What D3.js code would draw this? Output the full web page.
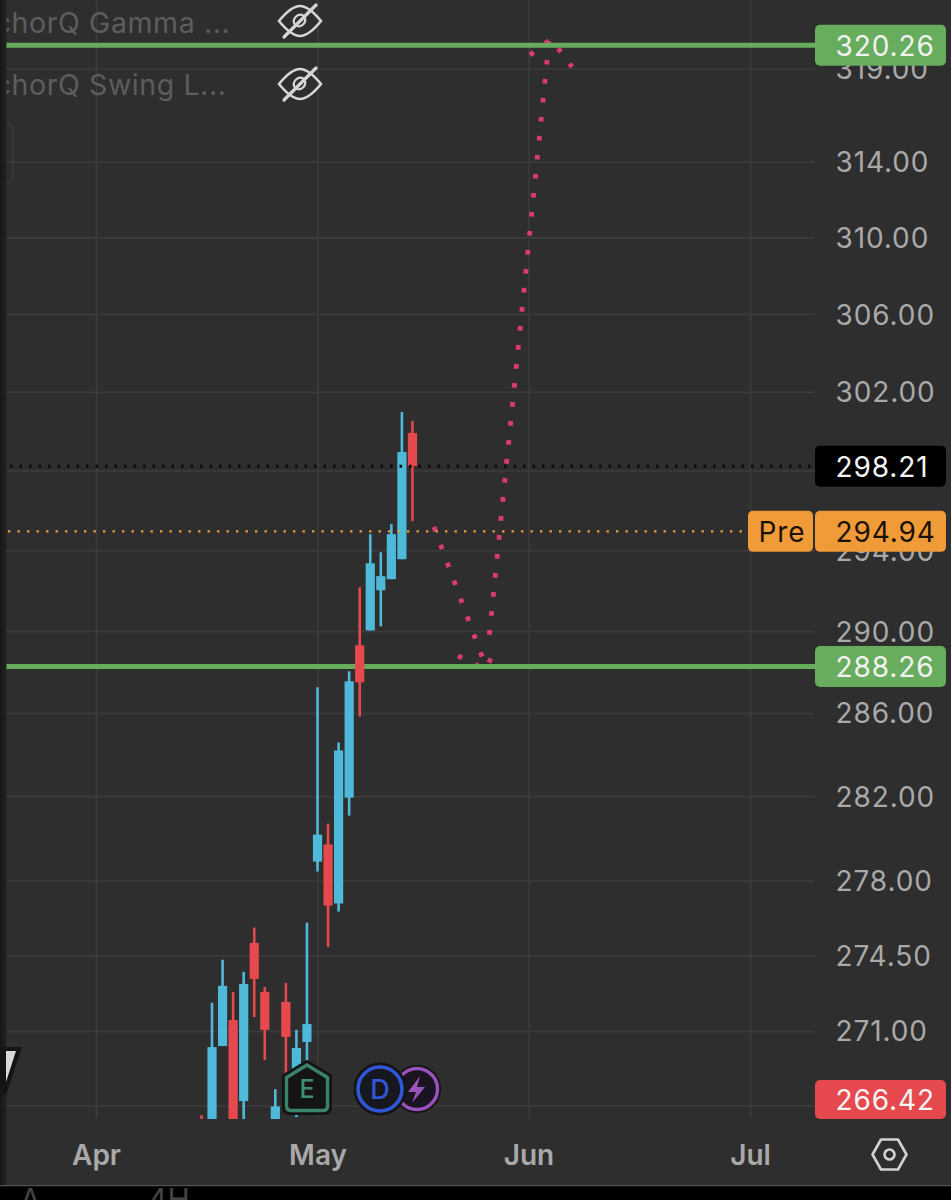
<!DOCTYPE html>
<html><head><meta charset="utf-8">
<script src="https://cdn.jsdelivr.net/npm/d3@7"></script>
<style>html,body{margin:0;padding:0;background:#000;overflow:hidden}svg{display:block}text{font-family:Inter,"Noto Sans",sans-serif}</style>
</head><body><svg id="c" width="951" height="1200"></svg>
<script>
// sessions counted from 1 April
const sessions=[10,11,12,13,14,15,16,17,18,19,20,21,22,23,24,25,26,27,28,29,30];
const opens =[266.5,266.4,270.31,271.5,267.8,275.08,272.8,266.6,272.34,268.75,270.5,278.89,279.7,276.92,281.93,289.3,290.03,292.01,292.56,293.55,299.9];
const closes=[266.2,270.26,273.08,266.4,273.17,273.4,271.05,267.56,270.73,270.22,271.32,280.17,276.82,284.19,287.54,287.49,293.35,292.71,294.8,298.93,298.22];
const highs =[267.16,272.3,274.29,272.8,273.73,275.79,273.03,268.34,273.22,271.05,276.02,287.25,280.69,284.58,288.03,292.16,294.8,293.9,295.3,300.97,300.51];
const lows  =[265.8,266,270.31,266,266.5,271.64,269.67,266,268.98,267.07,268.75,278.42,274.89,276.54,281.07,285.83,290.03,290.23,292.56,293.55,295.45];
const priceTicks=[319,314,310,306,302,294,290,286,282,278,274.5,271];
const gridOnly=[298,267.6];
const monthLabels=["Apr","May","Jun","Jul"];
const monthSessions=[0,21,41,62];
const levels=[320.26,288.26];
const lastPrice=298.21, prePrice=294.94, lowFlagPrice=266.42;
const arrow1Main=[[32.04,295.16],[37.07,288.09]];
const arrow1Wing=[[34.32,288.78],[36.93,288.12],[38.02,289.27]];
const arrow2Main=[[42.95,320.49],[37.16,289.16]];
const arrow2Wing=[[41.14,319.73],[43.14,320.6],[45.13,319.08]];
const legendNames=["AnchorQ Gamma ...","AnchorQ Swing L..."];

const W=951,H=1200,plotR=815,plotB=1119;
const svg=d3.select("#c");
const x=d3.scaleLinear().domain([0,62]).range([96,750]);
const y=d3.scaleLog().domain([271,319]).range([1031,68.5]);
const BG="#2e2e2e",GRID="#3c3c3c",AX="#a9a9a9",GREEN="#67ad5d",BLUE="#4fb9d9",RED="#e5494e",ORANGE="#f09b38",PINK="#dd3a72";
svg.append("rect").attr("width",W).attr("height",H).attr("fill",BG);
svg.append("defs").append("clipPath").attr("id","plot").append("rect").attr("x",0).attr("y",0).attr("width",plotR).attr("height",plotB);

// grid
const gy=svg.append("g").attr("transform",`translate(${plotR},0)`)
 .call(d3.axisLeft(y).tickValues(priceTicks.concat(gridOnly)).tickSize(plotR-6).tickFormat(""));
gy.select(".domain").remove();gy.selectAll("line").attr("stroke",GRID).attr("stroke-width",1.6);
const gx=svg.append("g").attr("transform",`translate(0,${plotB})`)
 .call(d3.axisTop(x).tickValues(monthSessions).tickSize(plotB).tickFormat(""));
gx.select(".domain").remove();gx.selectAll("line").attr("stroke",GRID).attr("stroke-width",1.6);

// legend
const legendY=[33,95];
svg.selectAll("text.leg").data(legendNames).join("text").attr("class","leg")
 .attr("x",-43).attr("y",(d,i)=>legendY[i]).attr("font-size",28.5).attr("fill","#5d5d5d").attr("letter-spacing",0.6).text(d=>d);
svg.append("path").attr("d","M0.5 124H6Q13 124 13 131V176Q13 183 6 183H0.5").attr("fill","none").attr("stroke","#3b3b3b").attr("stroke-width",1.5);
[21,84].forEach(cy=>{
 const e=svg.append("g").attr("transform",`translate(300,${cy})`).attr("fill","none").attr("stroke","#d6d6d6").attr("stroke-width",2.6).attr("stroke-linecap","round");
 e.append("path").attr("d","M-21 0C-12 -11 -6 -15 0 -15C6 -15 12 -11 21 0C12 11 6 15 0 15C-6 15 -12 11 -21 0Z");
 e.append("path").attr("d","M-5 4A6.5 6.5 0 0 1 4 -5M5 -3A6.5 6.5 0 0 1 -3 5").attr("stroke-width",2.2);
 e.append("path").attr("d","M-16 16L16 -16").attr("stroke-width",3.2);
});

// forecast arrows (under the green levels)
const line=d3.line().x(d=>x(d[0])).y(d=>y(d[1]));
[arrow1Main,arrow1Wing,arrow2Main,arrow2Wing].forEach(a=>{
 svg.append("path").attr("d",line(a)).attr("fill","none").attr("stroke",PINK).attr("stroke-width",4.8).attr("stroke-dasharray","4.6 14.5");
});

// green levels
svg.selectAll("line.lv").data(levels).join("line").attr("class","lv")
 .attr("x1",6).attr("x2",plotR).attr("y1",d=>y(d)).attr("y2",d=>y(d)).attr("stroke",GREEN).attr("stroke-width",5);

// candles
const cg=svg.append("g").attr("clip-path","url(#plot)");
const idx=d3.range(sessions.length);
const col=i=>closes[i]>=opens[i]?BLUE:RED;
cg.selectAll("line.w").data(idx).join("line").attr("class","w")
 .attr("x1",i=>x(sessions[i])).attr("x2",i=>x(sessions[i])).attr("y1",i=>y(highs[i])).attr("y2",i=>y(lows[i]))
 .attr("stroke",col).attr("stroke-width",2.6);
cg.selectAll("rect.b").data(idx).join("rect").attr("class","b")
 .attr("x",i=>x(sessions[i])-4.6).attr("width",9.2)
 .attr("y",i=>y(Math.max(opens[i],closes[i]))).attr("height",i=>Math.abs(y(opens[i])-y(closes[i])))
 .attr("fill",col);

// price lines
svg.append("line").attr("x1",10).attr("x2",plotR).attr("y1",y(lastPrice)).attr("y2",y(lastPrice))
 .attr("stroke","#0a0a0a").attr("stroke-width",2.8).attr("stroke-dasharray","2.6 6.9");
svg.append("line").attr("x1",8).attr("x2",748).attr("y1",y(prePrice)).attr("y2",y(prePrice))
 .attr("stroke",ORANGE).attr("stroke-width",2.4).attr("stroke-dasharray","2.4 7.1");

// axes
const ya=svg.append("g").attr("transform","translate(835.5,1)")
 .call(d3.axisRight(y).tickValues(priceTicks).tickSize(0).tickPadding(0).tickFormat(d3.format(".2f")));
ya.select(".domain").remove();
ya.selectAll("text").attr("font-size",28).attr("fill",AX).attr("font-family","Inter").attr("letter-spacing",0.9);
const xa=svg.append("g").attr("transform","translate(0,1155)")
 .call(d3.axisBottom(x).tickValues(monthSessions).tickSize(0).tickPadding(0).tickFormat((d,i)=>monthLabels[i]));
xa.select(".domain").remove();
xa.selectAll("text").attr("font-size",28).attr("font-weight",600).attr("fill",AX).attr("font-family","Inter").attr("dy","0.36em").attr("y",0);

// flags
const fmt=d3.format(".2f");
function flag(px,py,w,h,fill,txt,color,tx){
 const g=svg.append("g");
 g.append("rect").attr("x",px).attr("y",py).attr("width",w).attr("height",h).attr("rx",5).attr("fill",fill);
 g.append("text").attr("x",tx).attr("y",py+h/2+0.5).attr("dy","0.36em").attr("font-size",28).attr("letter-spacing",0.9).attr("fill",color).text(txt);
}
levels.forEach(v=>flag(815,y(v)-20.5,131,41,GREEN,fmt(v),"#f2f2f2",835.5));
flag(815,y(lastPrice)-20.5,131,41,"#000000",fmt(lastPrice),"#f4f4f4",835.5);
flag(748,y(prePrice)-20.5,65,41,ORANGE,"Pre","#1a1208",758.5);
flag(815,y(prePrice)-20.5,131,41,ORANGE,fmt(prePrice),"#1a1208",835.5);
flag(815,1080,131,39,RED,fmt(lowFlagPrice),"#f6f6f6",835.5);

// settings icon
const s=svg.append("g").attr("transform","translate(889.5,1154.5)").attr("fill","none").attr("stroke","#d2d2d2").attr("stroke-width",2.6);
s.append("path").attr("d","M-17 0L-8.5 -15H8.5L17 0L8.5 15H-8.5Z").attr("stroke-linejoin","round");
s.append("circle").attr("r",5);

// badges
const lt=svg.append("g").attr("transform","translate(417,1089)");
lt.append("circle").attr("r",24).attr("fill","#141414");
lt.append("circle").attr("r",20.5).attr("fill","#1a1420").attr("stroke","#9a52bd").attr("stroke-width",3.4);
lt.append("path").attr("d","M3 -13L-9 3H-1L-5 14L8 -2H0Z").attr("fill","#9a52bd");
const db=svg.append("g").attr("transform","translate(380,1089)");
db.append("circle").attr("r",26.5).attr("fill","#141414");
db.append("circle").attr("r",22).attr("fill","#17181f").attr("stroke","#2f57d8").attr("stroke-width",3.6);
db.append("text").attr("text-anchor","middle").attr("dy","0.36em").attr("font-size",27).attr("font-weight",500).attr("fill","#2f57d8").text("D");
const eb=svg.append("g").attr("transform","translate(307,1088)");
eb.append("path").attr("d","M0 -26L23 -12V19Q23 25 17 25H-17Q-23 25 -23 19V-12Z").attr("fill","#141414").attr("stroke","#141414").attr("stroke-width",4).attr("stroke-linejoin","round");
eb.append("path").attr("d","M0 -23L20.5 -10.5V18Q20.5 22.5 16 22.5H-16Q-20.5 22.5 -20.5 18V-10.5Z").attr("fill","#141414").attr("stroke","#38836c").attr("stroke-width",3.4).attr("stroke-linejoin","round");
eb.append("text").attr("text-anchor","middle").attr("y",1).attr("dy","0.36em").attr("font-size",25).attr("font-weight",500).attr("fill","#3f8f75").text("E");

// left strip, partial drawing tool, bottom bar
const grad=svg.select("defs").append("linearGradient").attr("id","strip");
grad.append("stop").attr("offset","0").attr("stop-color","#161616");
grad.append("stop").attr("offset","1").attr("stop-color","#232323");
svg.append("rect").attr("x",0).attr("y",0).attr("width",6.5).attr("height",1186).attr("fill","url(#strip)");
svg.append("path").attr("d","M0 1047H22L6 1095L0 1092Z").attr("fill","#141414");
svg.append("path").attr("d","M6 1051H16L6 1082Z").attr("fill","#d9d9d9");
svg.append("rect").attr("x",0).attr("y",1186).attr("width",W).attr("height",14).attr("fill","#000");
svg.append("rect").attr("x",0).attr("y",1185).attr("width",W).attr("height",1.2).attr("fill","#555");
svg.append("text").attr("x",20).attr("y",1210).attr("font-size",30).attr("fill","#444").text("A");
svg.append("text").attr("x",148).attr("y",1210).attr("font-size",30).attr("fill","#444").text("4H");
</script></body></html>
